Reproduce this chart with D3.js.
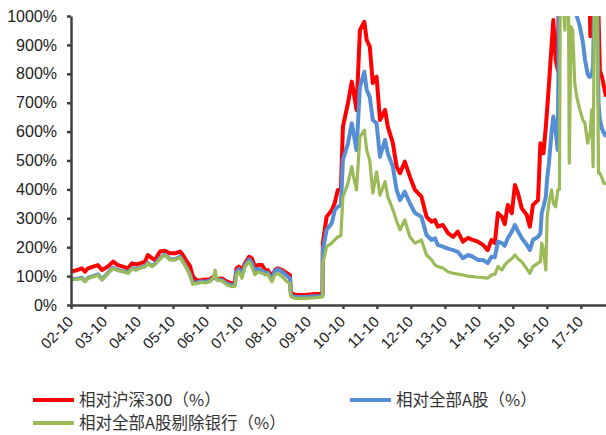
<!DOCTYPE html>
<html><head><meta charset="utf-8">
<script src="https://cdn.jsdelivr.net/npm/d3@7"></script>
<style>body{margin:0;background:#fff}</style></head>
<body>
<svg id="c" width="606" height="435"></svg>
<script>
// decimal years
const dates=[2002.75,2002.93,2003.07,2003.16,2003.25,2003.40,2003.54,2003.66,2003.75,2003.84,2003.99,2004.13,2004.28,2004.43,2004.54,2004.66,2004.78,2004.93,2005.01,2005.13,2005.22,2005.37,2005.51,2005.66,2005.81,2005.96,2006.04,2006.16,2006.25,2006.34,2006.46,2006.60,2006.69,2006.84,2006.93,2006.99,2007.04,2007.19,2007.34,2007.49,2007.57,2007.62,2007.69,2007.78,2007.87,2007.99,2008.07,2008.16,2008.25,2008.37,2008.46,2008.54,2008.66,2008.75,2008.84,2008.96,2009.10,2009.19,2009.22,2009.34,2009.63,2009.93,2010.10,2010.15,2010.16,2010.27,2010.42,2010.51,2010.60,2010.69,2010.75,2010.90,2011.01,2011.07,2011.15,2011.25,2011.38,2011.45,2011.54,2011.63,2011.74,2011.84,2011.99,2012.07,2012.22,2012.33,2012.43,2012.57,2012.72,2012.87,2013.06,2013.21,2013.36,2013.46,2013.54,2013.69,2013.84,2013.99,2014.13,2014.28,2014.43,2014.57,2014.72,2014.87,2015.01,2015.12,2015.22,2015.31,2015.43,2015.51,2015.60,2015.72,2015.81,2015.90,2016.01,2016.16,2016.25,2016.34,2016.49,2016.56,2016.60,2016.65,2016.72,2016.76,2016.81,2016.89,2016.94,2017.01,2017.07,2017.12,2017.15,2017.28,2017.34,2017.38,2017.41,2017.46,2017.51,2017.57,2017.63,2017.72,2017.81,2017.87,2017.95,2017.99,2018.03,2018.07,2018.11,2018.16,2018.22,2018.27,2018.31,2018.37,2018.43,2018.49];
const vsHS300=[115,121,127,115,127,133,138,121,127,133,150,138,133,127,144,140,144,150,173,162,156,185,188,179,179,185,173,150,135,98,84,87,87,89,98,95,90,92,81,75,78,127,133,121,144,167,162,133,138,138,121,121,98,121,127,121,110,104,42,35,35,38,38,40,215,305,328,353,398,398,617,699,773,734,675,951,980,917,894,768,790,640,675,617,560,478,456,496,444,398,375,305,288,294,271,277,249,236,254,219,232,225,219,208,190,225,214,318,305,280,346,318,415,387,335,311,271,346,363,560,540,525,617,680,760,900,986,848,813,1200,1200,1200,1200,1200,1200,1200,1200,1200,1200,1200,1200,1200,1200,1200,930,1200,1200,1200,1200,1000,810,790,755,721];
const vsAllA=[89,91,94,83,94,100,106,89,100,112,129,121,117,112,127,123,129,135,146,135,142,162,175,158,158,167,152,129,106,75,78,82,80,84,94,100,88,86,74,68,70,115,124,102,138,158,146,116,125,120,111,112,88,118,124,115,101,92,33,28,28,30,31,33,190,260,283,328,340,345,502,560,629,590,536,755,807,744,720,640,629,513,571,525,478,398,363,392,352,318,305,242,225,231,208,202,195,190,184,162,173,167,156,156,145,167,165,219,214,205,231,254,277,255,232,208,190,225,236,248,320,340,375,440,490,600,652,600,536,1200,1200,1200,1200,1200,1200,1200,1200,1200,1000,965,910,850,800,790,790,800,820,1200,1200,700,640,610,595,582];
const vsAllAexBank=[87,89,92,81,92,98,104,87,98,110,127,119,115,110,125,121,127,133,144,133,140,160,173,156,156,165,150,127,104,72,75,79,76,81,92,121,87,83,69,63,65,104,115,92,133,150,133,104,115,110,104,106,81,104,110,98,81,75,29,23,23,25,27,28,145,202,214,225,236,240,375,421,479,440,398,582,605,536,500,387,461,380,427,375,330,290,260,294,236,214,225,173,156,138,133,128,115,110,107,104,100,98,96,95,93,104,106,133,121,138,150,160,173,160,150,125,110,133,145,150,214,190,121,305,352,398,352,340,398,400,1200,951,1200,1200,491,963,951,768,720,675,640,629,560,580,600,675,479,1200,1200,456,456,440,421,421];
const yTicks=[0,100,200,300,400,500,600,700,800,900,1000];
const xTickYears=[2002,2003,2004,2005,2006,2007,2008,2009,2010,2011,2012,2013,2014,2015,2016,2017];
const xTickLabels=["02-10","03-10","04-10","05-10","06-10","07-10","08-10","09-10","10-10","11-10","12-10","13-10","14-10","15-10","16-10","17-10"];
const seriesNames=["相对沪深300（%）","相对全部A股（%）","相对全部A股剔除银行（%）"];

const colors=["#FF0000","#558ED5","#9BBB59"];
const widths=[4,4,3.2];
const svg=d3.select("#c");
const L=71,R=606,T=16,B=305;
const x=d3.scaleLinear().domain([2002.75,2018.49]).range([L,R]);
const y=d3.scaleLinear().domain([0,1000]).range([B,T]);

svg.append("defs").append("clipPath").attr("id","clip")
  .append("rect").attr("x",L).attr("y",y(1000)).attr("width",R-L).attr("height",B-y(1000));

const series=[vsHS300,vsAllA,vsAllAexBank];
const line=d3.line().x((d,i)=>x(dates[i])).y(d=>y(d));
const g=svg.append("g").attr("clip-path","url(#clip)");
series.forEach((s,k)=>{
  g.append("path").attr("d",line(s)).attr("fill","none")
   .attr("stroke",colors[k]).attr("stroke-width",widths[k])
   .attr("stroke-linejoin","round");
});

const ya=svg.append("g").attr("transform",`translate(${L},0)`)
  .call(d3.axisLeft(y).tickValues(yTicks).tickSize(4).tickSizeOuter(0).tickPadding(10).tickFormat(d=>d+"%"));
ya.select(".domain").attr("stroke","#404040").attr("stroke-width",2.5);
ya.selectAll(".tick line").attr("stroke","#404040").attr("stroke-width",2.5);
ya.selectAll("text").attr("font-family","Liberation Sans, Arial, sans-serif").attr("font-size","16px").attr("fill","#222");

const xa=svg.append("g").attr("transform",`translate(0,${B})`)
  .call(d3.axisBottom(x).tickValues(xTickYears.map(v=>v+0.75)).tickSize(4).tickSizeOuter(0).tickFormat((d,i)=>xTickLabels[i]));
xa.select(".domain").attr("stroke","#404040").attr("stroke-width",2.5);
xa.selectAll(".tick line").attr("stroke","#404040").attr("stroke-width",2.5);
xa.selectAll("text").attr("font-family","Liberation Sans, Arial, sans-serif").attr("font-size","15px").attr("fill","#222")
  .attr("text-anchor","end").attr("transform","translate(-1,14) rotate(-45)").attr("dy","0.35em").attr("y",0);

// legend
const leg=[[33,400],[350,400],[33,423]];
seriesNames.forEach((n,k)=>{
  const [lx,ly]=leg[k];
  svg.append("line").attr("x1",lx).attr("x2",lx+41).attr("y1",ly).attr("y2",ly)
    .attr("stroke",colors[k]).attr("stroke-width",4);
  svg.append("text").attr("x",lx+46).attr("y",ly).attr("dy","0.35em")
    .attr("font-family","Noto Sans CJK SC, sans-serif").attr("font-size","16.5px").attr("fill","#333").text(n);
});
</script>
</body></html>
